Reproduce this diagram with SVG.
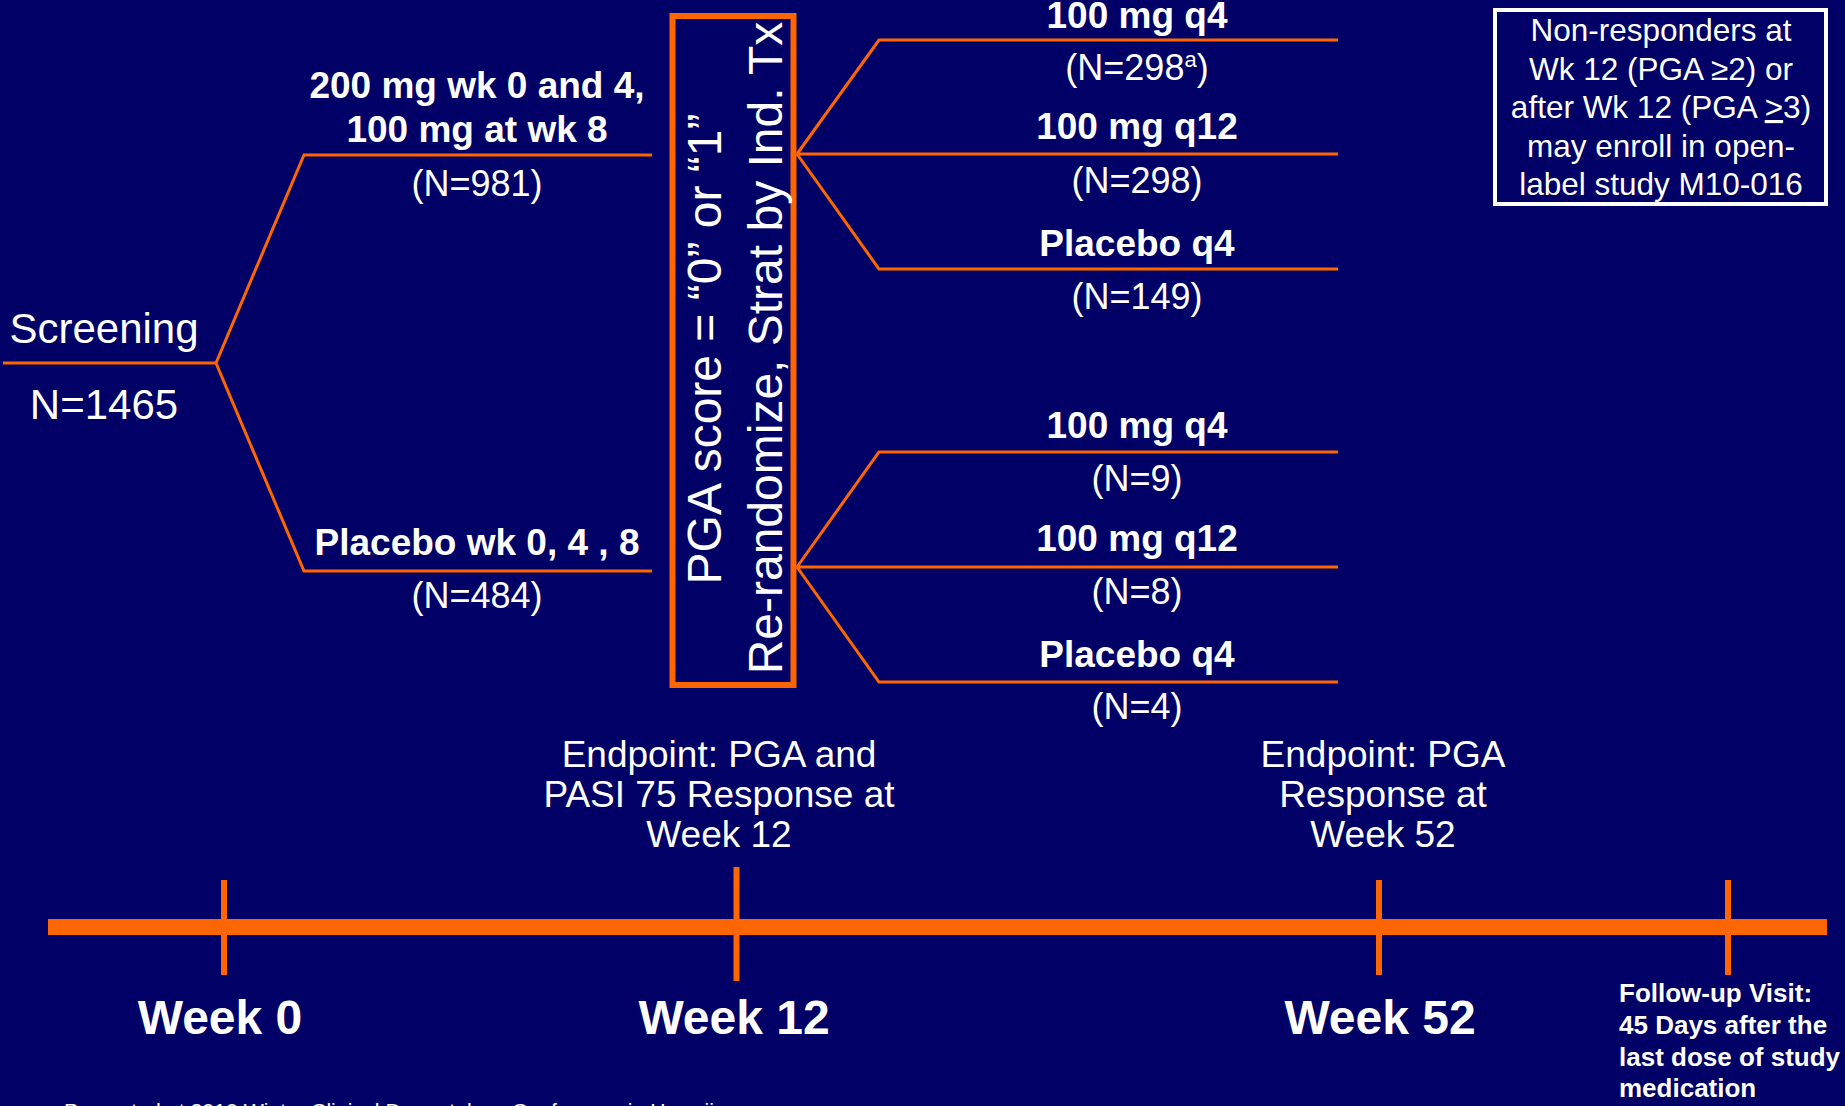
<svg xmlns="http://www.w3.org/2000/svg" width="1845" height="1106" viewBox="0 0 1845 1106">
<style>
text{font-family:"Liberation Sans",Arial,Helvetica,sans-serif;fill:#ffffff}
.big{font-size:42px}
.lbl{font-size:37px;font-weight:bold;text-anchor:middle}
.n{font-size:36px;text-anchor:middle}
.rot{font-size:48px;text-anchor:middle}
.note{font-size:31.5px;text-anchor:middle}
.ep{font-size:37px;text-anchor:middle}
.wk{font-size:48px;font-weight:bold;text-anchor:middle}
.fu{font-size:26px;font-weight:bold}
.br{fill:none;stroke:#ff6600;stroke-width:3;stroke-linejoin:miter}
.tick{fill:#ff6600}
</style>
<rect x="0" y="0" width="1845" height="1106" fill="#000066"/>

<g id="connectors">
  <path class="br" d="M3,363 H216 L304,155 H652 M216,363 L304,571 H652"/>
  <path class="br" d="M797,154 L879,40 H1338 M797,154 H1338 M797,154 L879,269 H1338"/>
  <path class="br" d="M797,567 L879,452 H1338 M797,567 H1338 M797,567 L879,682 H1338"/>
</g>

<g id="screening">
  <text class="big" x="104" y="343" text-anchor="middle">Screening</text>
  <text class="big" x="104" y="419" text-anchor="middle">N=1465</text>
</g>

<g id="arm-active">
  <text class="lbl" x="477" y="98">200 mg wk 0 and 4,</text>
  <text class="lbl" x="477" y="142">100 mg at wk 8</text>
  <text class="n" x="477" y="196">(N=981)</text>
</g>

<g id="arm-placebo">
  <text class="lbl" x="477" y="555">Placebo wk 0, 4 , 8</text>
  <text class="n" x="477" y="608">(N=484)</text>
</g>

<g id="rerandomize">
  <rect x="672.5" y="16" width="121" height="669" fill="none" stroke="#ff6600" stroke-width="6"/>
  <text class="rot" transform="translate(721,349) rotate(-90)">PGA score = “0” or “1”</text>
  <text class="rot" transform="translate(782,348) rotate(-90)">Re-randomize, Strat by Ind. Tx</text>
</g>

<g id="resp-q4">
  <text class="lbl" x="1137" y="28">100 mg q4</text>
  <text class="n" x="1137" y="80">(N=298<tspan font-size="22" dy="-13">a</tspan><tspan dy="13">)</tspan></text>
</g>
<g id="resp-q12">
  <text class="lbl" x="1137" y="139">100 mg q12</text>
  <text class="n" x="1137" y="193">(N=298)</text>
</g>
<g id="resp-pbo">
  <text class="lbl" x="1137" y="256">Placebo q4</text>
  <text class="n" x="1137" y="309">(N=149)</text>
</g>

<g id="pbo-q4">
  <text class="lbl" x="1137" y="438">100 mg q4</text>
  <text class="n" x="1137" y="491">(N=9)</text>
</g>
<g id="pbo-q12">
  <text class="lbl" x="1137" y="551">100 mg q12</text>
  <text class="n" x="1137" y="604">(N=8)</text>
</g>
<g id="pbo-pbo">
  <text class="lbl" x="1137" y="667">Placebo q4</text>
  <text class="n" x="1137" y="719">(N=4)</text>
</g>

<g id="nonresponder-note">
  <rect x="1495" y="10" width="331" height="194" fill="none" stroke="#ffffff" stroke-width="4"/>
  <text class="note" x="1661" y="41">Non-responders at</text>
  <text class="note" x="1661" y="80">Wk 12 (PGA ≥2) or</text>
  <text class="note" x="1661" y="118">after Wk 12 (PGA <tspan text-decoration="underline">&gt;</tspan>3)</text>
  <text class="note" x="1661" y="157">may enroll in open-</text>
  <text class="note" x="1661" y="195">label study M10-016</text>
</g>

<g id="endpoint-12">
  <text class="ep" x="719" y="767">Endpoint: PGA and</text>
  <text class="ep" x="719" y="807">PASI 75 Response at</text>
  <text class="ep" x="719" y="847">Week 12</text>
</g>
<g id="endpoint-52">
  <text class="ep" x="1383" y="767">Endpoint: PGA</text>
  <text class="ep" x="1383" y="807">Response at</text>
  <text class="ep" x="1383" y="847">Week 52</text>
</g>

<g id="timeline">
  <rect class="tick" x="48" y="919" width="1779" height="16"/>
  <rect class="tick" x="221" y="880" width="6" height="95"/>
  <rect class="tick" x="733.5" y="867" width="6" height="114"/>
  <rect class="tick" x="1376" y="880" width="6" height="95"/>
  <rect class="tick" x="1725" y="880" width="6" height="95"/>
</g>

<g id="week0"><text class="wk" x="220" y="1034">Week 0</text></g>
<g id="week12"><text class="wk" x="734" y="1034">Week 12</text></g>
<g id="week52"><text class="wk" x="1380" y="1034">Week 52</text></g>

<g id="followup">
  <text class="fu" x="1619" y="1002">Follow-up Visit:</text>
  <text class="fu" x="1619" y="1034">45 Days after the</text>
  <text class="fu" x="1619" y="1066">last dose of study</text>
  <text class="fu" x="1619" y="1097">medication</text>
</g>

<g id="footer">
  <text x="64" y="1118" font-size="20" textLength="650" lengthAdjust="spacingAndGlyphs">Presented at 2010 Winter Clinical Dermatology Conference in Hawaii</text>
</g>
</svg>
